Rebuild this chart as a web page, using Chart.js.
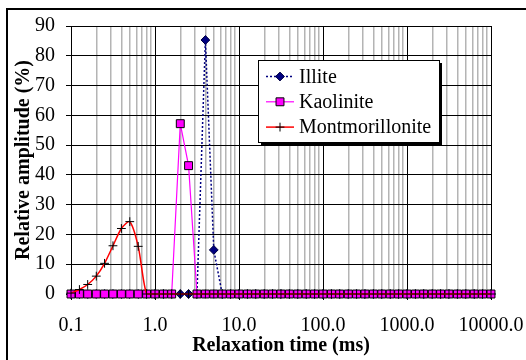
<!DOCTYPE html>
<html lang="en">
<head>
<meta charset="UTF-8">
<title>Relaxation time distribution</title>
<script src="https://cdn.jsdelivr.net/npm/chart.js"></script>
<style>
  body { margin: 0; background: #fff; }
  #wrap { width: 526px; height: 360px; }
</style>
</head>
<body>
<div id="wrap"><canvas id="relaxChart" width="526" height="360"></canvas></div>
<script>
// relaxation times (ms), 10 points per decade
const times = [
  0.1, 0.126, 0.158, 0.2, 0.251, 0.316, 0.398, 0.501, 0.631, 0.794,
  1, 1.26, 1.58, 2, 2.51, 3.16, 3.98, 5.01, 6.31, 7.94,
  10, 12.6, 15.8, 20, 25.1, 31.6, 39.8, 50.1, 63.1, 79.4,
  100, 126, 158, 200, 251, 316, 398, 501, 631, 794,
  1000, 1260, 1580, 2000, 2510, 3160, 3980, 5010, 6310, 7940,
  10000
];

const illite = [
  0, 0, 0, 0, 0, 0, 0, 0, 0, 0,
  0, 0, 0, 0, 0, 0, 85.3, 14.8, 0, 0,
  0, 0, 0, 0, 0, 0, 0, 0, 0, 0,
  0, 0, 0, 0, 0, 0, 0, 0, 0, 0,
  0, 0, 0, 0, 0, 0, 0, 0, 0, 0,
  0
];

const kaolinite = [
  0, 0, 0, 0, 0, 0, 0, 0, 0, 0,
  0, 0, 0, 57.2, 43.1, 0, 0, 0, 0, 0,
  0, 0, 0, 0, 0, 0, 0, 0, 0, 0,
  0, 0, 0, 0, 0, 0, 0, 0, 0, 0,
  0, 0, 0, 0, 0, 0, 0, 0, 0, 0,
  0
];

const montmorillonite = [
  0.3, 1.5, 3.2, 6, 10.3, 16.2, 22, 24.3, 16, 0,
  0, 0, 0, 0, 0, 0, 0, 0, 0, 0,
  0, 0, 0, 0, 0, 0, 0, 0, 0, 0,
  0, 0, 0, 0, 0, 0, 0, 0, 0, 0,
  0, 0, 0, 0, 0, 0, 0, 0, 0, 0,
  0
];

const xDecades = [0.1, 1, 10, 100, 1000, 10000];

// gridline positions: 1..9 in every decade
const xGrid = [];
xDecades.slice(0, -1).forEach(d => {
  for (let m = 1; m < 10; m++) xGrid.push(+(d * m).toPrecision(3));
});
xGrid.push(xDecades[xDecades.length - 1]);

const isDecade = v => xDecades.some(d => Math.abs(d - v) < d * 1e-6);
const toPoints = arr => arr.map((y, i) => ({ x: times[i], y: y }));

const SERIF = "'Liberation Serif', Tinos, 'Times New Roman', 'DejaVu Serif', serif";
Chart.defaults.font.family = SERIF;
Chart.defaults.font.size = 20;
Chart.defaults.color = '#000';

const frame = {
  id: 'frame',
  beforeDraw(chart) {
    const ctx = chart.ctx;
    ctx.save();
    ctx.fillStyle = '#fff';
    ctx.fillRect(0, 0, chart.width, chart.height);
    ctx.strokeStyle = '#000';
    ctx.lineWidth = 2;
    ctx.strokeRect(7, 9, 700, 700);
    ctx.restore();
  }
};

const boxLegend = {
  id: 'boxLegend',
  afterDraw(chart) {
    const ctx = chart.ctx;
    const x = 258, y = 60, w = 181, h = 82;
    ctx.save();
    ctx.fillStyle = '#000';
    ctx.fillRect(x + 3, y + 3, w, h);
    ctx.fillStyle = '#fff';
    ctx.fillRect(x, y, w, h);
    ctx.strokeStyle = '#000';
    ctx.lineWidth = 1;
    ctx.strokeRect(x + 0.5, y + 0.5, w, h);
    chart.data.datasets.forEach((ds, i) => {
      const cy = y + 16.5 + i * 25.3;
      ctx.setLineDash(ds.borderDash || []);
      ctx.strokeStyle = ds.borderColor;
      ctx.lineWidth = ds.borderWidth;
      ctx.beginPath();
      ctx.moveTo(x + 8, cy);
      ctx.lineTo(x + 36, cy);
      ctx.stroke();
      ctx.setLineDash([]);
      ctx.fillStyle = ds.pointBackgroundColor;
      ctx.strokeStyle = ds.pointBorderColor;
      ctx.lineWidth = ds.pointBorderWidth;
      Chart.helpers.drawPoint(ctx, {
        pointStyle: ds.pointStyle, radius: ds.pointRadius,
        borderWidth: ds.pointBorderWidth, rotation: 0
      }, x + 22, cy);
      ctx.fillStyle = '#000';
      ctx.font = '20px ' + SERIF;
      ctx.textBaseline = 'middle';
      ctx.textAlign = 'left';
      ctx.fillText(ds.label, x + 41, cy + 1);
    });
    ctx.restore();
  }
};

const ctx = document.getElementById('relaxChart').getContext('2d');
new Chart(ctx, {
  type: 'line',
  data: {
    datasets: [
      {
        label: 'Illite',
        data: toPoints(illite),
        borderColor: '#000080',
        borderWidth: 1.5,
        borderDash: [2, 2],
        pointStyle: 'rectRot',
        pointRadius: 4.4,
        pointBackgroundColor: '#000080',
        pointBorderColor: '#000040',
        pointBorderWidth: 1,
        tension: 0,
        clip: false,
        order: 3
      },
      {
        label: 'Kaolinite',
        data: toPoints(kaolinite),
        borderColor: '#ff00ff',
        borderWidth: 1.2,
        pointStyle: 'rect',
        pointRadius: 5.6,
        pointBackgroundColor: '#ff00ff',
        pointBorderColor: '#000',
        pointBorderWidth: 1,
        tension: 0,
        clip: false,
        order: 2
      },
      {
        label: 'Montmorillonite',
        data: toPoints(montmorillonite),
        borderColor: '#ff0000',
        borderWidth: 1.5,
        pointStyle: 'cross',
        pointRadius: 4.4,
        pointBackgroundColor: '#000',
        pointBorderColor: '#000',
        pointBorderWidth: 1,
        tension: 0.25,
        clip: false,
        order: 1
      }
    ]
  },
  options: {
    responsive: false,
    animation: false,
    layout: { padding: { top: 26, right: 35, left: 0, bottom: 0 } },
    plugins: {
      legend: { display: false },
      tooltip: { enabled: false }
    },
    scales: {
      x: {
        type: 'logarithmic',
        min: 0.1,
        max: 10000,
        afterBuildTicks: s => { s.ticks = xGrid.map(v => ({ value: v })); },
        afterFit: s => { s.height = 66; s.paddingLeft = 0; s.paddingRight = 0; },
        ticks: {
          autoSkip: false,
          maxRotation: 0,
          padding: 14,
          callback: v => isDecade(v) ? v.toFixed(1) : ''
        },
        grid: {
          color: c => (c.tick && isDecade(c.tick.value)) ? '#000' : '#b4b4b4',
          lineWidth: c => (c.tick && isDecade(c.tick.value)) ? 1 : 1.5,
          tickLength: 6,
          tickColor: c => (c.tick && isDecade(c.tick.value)) ? '#000' : 'rgba(0,0,0,0)'
        },
        border: { color: '#000', width: 1 },
        title: {
          display: true,
          text: 'Relaxation time (ms)',
          font: { weight: 'bold', size: 20 },
          padding: { top: 0, bottom: 2 }
        }
      },
      y: {
        min: 0,
        max: 90,
        afterFit: s => { s.width = 71; s.paddingTop = 0; s.paddingBottom = 0; },
        ticks: { stepSize: 10, padding: 11 },
        grid: { color: '#000', tickLength: 5, tickColor: '#000' },
        border: { color: '#000', width: 1 },
        title: {
          display: true,
          text: 'Relative amplitude (%)',
          font: { weight: 'bold', size: 20 },
          padding: { top: 12, bottom: 0 }
        }
      }
    }
  },
  plugins: [frame, boxLegend]
});
</script>
</body>
</html>
